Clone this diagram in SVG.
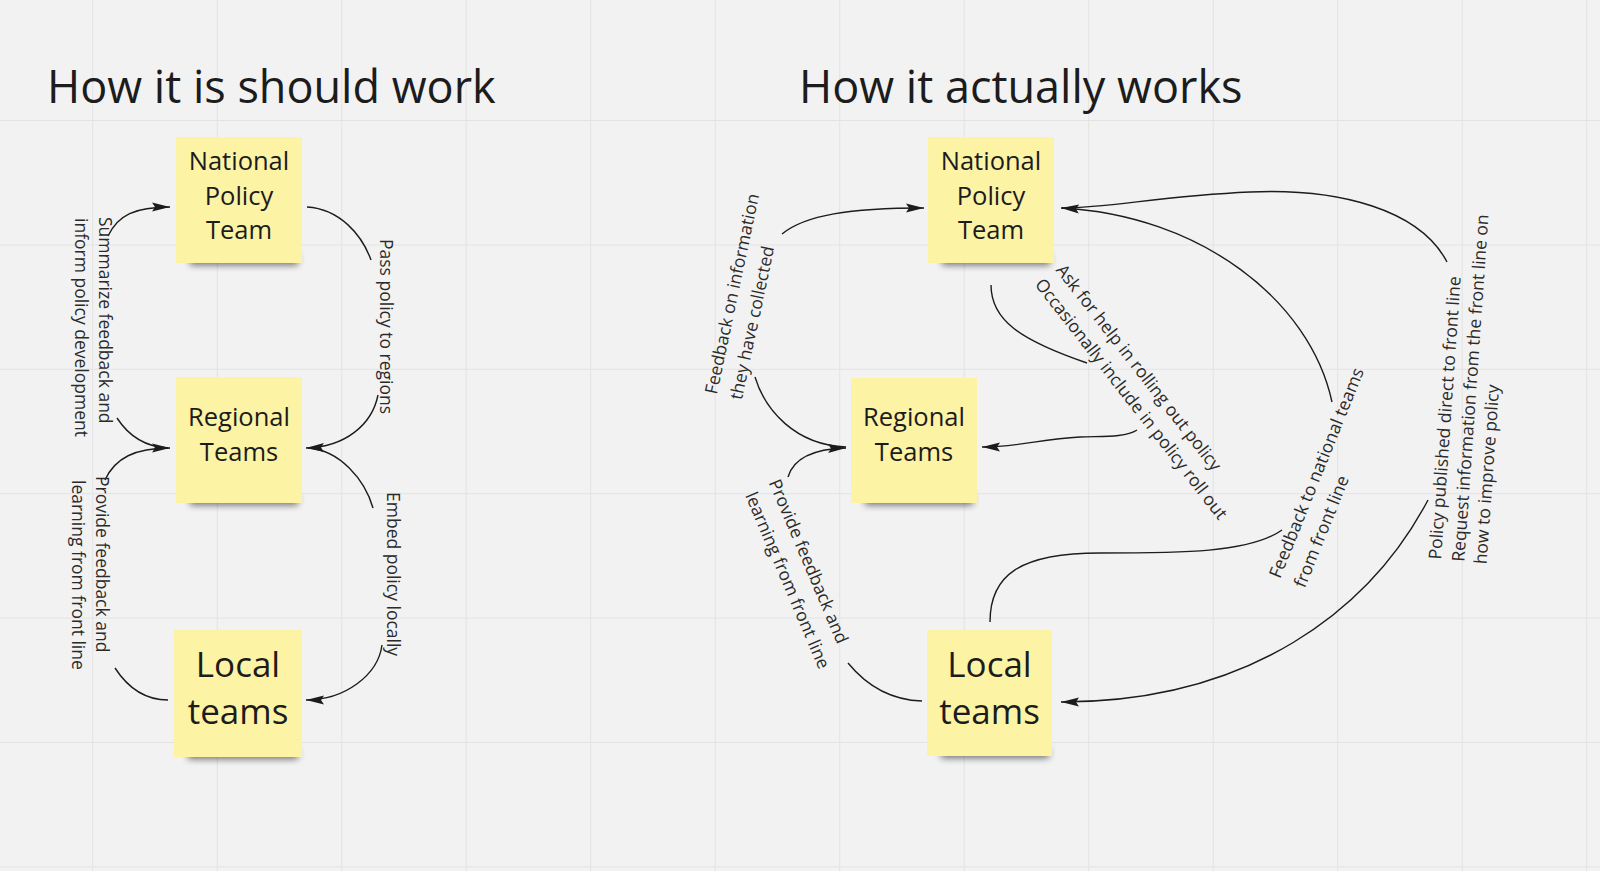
<svg xmlns="http://www.w3.org/2000/svg" width="1600" height="871" viewBox="0 0 1600 871">
<defs>
<style>
.bg{fill:#f2f2f2}
.grid line{stroke:#e3e3e3;stroke-width:1}
.title{font-family:"Open Sans","Liberation Sans",sans-serif;font-size:45px;fill:#1c1c1c}
.note{fill:#fdf3a5}
.shadow{fill:#000;opacity:0.55;filter:url(#blur)}
.nt{font-family:"Open Sans","Liberation Sans",sans-serif;font-size:25.5px;fill:#1c1c1c;text-anchor:middle}
.nt.big{font-size:35px}
.conn path{fill:none;stroke:#1c1c1c;stroke-width:1.4}
.lbl{font-family:"Open Sans","Liberation Sans",sans-serif;font-size:17.5px;fill:#2a2a2a}
.mid{text-anchor:middle}
</style>
<filter id="blur" x="-20%" y="-200%" width="140%" height="500%"><feGaussianBlur stdDeviation="3.5"/></filter>
<marker id="arr" viewBox="-20 -6 22 12" refX="0" refY="0" markerWidth="22" markerHeight="12" markerUnits="userSpaceOnUse" orient="auto">
<path d="M0,0 L-18,-4.5 L-15,0 L-18,4.5 Z" fill="#1c1c1c"/>
</marker>
</defs>
<rect class="bg" x="0" y="0" width="1600" height="871"/>
<g class="grid">
<line x1="92.7" y1="0" x2="92.7" y2="871"/><line x1="217.2" y1="0" x2="217.2" y2="871"/><line x1="341.7" y1="0" x2="341.7" y2="871"/><line x1="466.2" y1="0" x2="466.2" y2="871"/><line x1="590.7" y1="0" x2="590.7" y2="871"/><line x1="715.2" y1="0" x2="715.2" y2="871"/><line x1="839.7" y1="0" x2="839.7" y2="871"/><line x1="964.2" y1="0" x2="964.2" y2="871"/><line x1="1088.7" y1="0" x2="1088.7" y2="871"/><line x1="1213.2" y1="0" x2="1213.2" y2="871"/><line x1="1337.7" y1="0" x2="1337.7" y2="871"/><line x1="1462.2" y1="0" x2="1462.2" y2="871"/><line x1="1586.7" y1="0" x2="1586.7" y2="871"/>
<line x1="0" y1="120.5" x2="1600" y2="120.5"/><line x1="0" y1="245" x2="1600" y2="245"/><line x1="0" y1="369.3" x2="1600" y2="369.3"/><line x1="0" y1="493.7" x2="1600" y2="493.7"/><line x1="0" y1="618.1" x2="1600" y2="618.1"/><line x1="0" y1="742.5" x2="1600" y2="742.5"/><line x1="0" y1="866.9" x2="1600" y2="866.9"/>
</g>
<text class="title" x="47" y="103">How it is should work</text>
<text class="title" x="799" y="103">How it actually works</text>

<g id="left-national">
<rect class="shadow" x="190" y="255" width="108" height="10"/>
<rect class="note" x="176" y="137" width="126" height="126"/>
<text class="nt" x="239" y="170">National</text><text class="nt" x="239" y="204.5">Policy</text><text class="nt" x="239" y="239">Team</text>
</g>
<g id="left-regional">
<rect class="shadow" x="190" y="495" width="108" height="10"/>
<rect class="note" x="176" y="377" width="126" height="126"/>
<text class="nt" x="239" y="426">Regional</text><text class="nt" x="239" y="461">Teams</text>
</g>
<g id="left-local">
<rect class="shadow" x="188" y="749" width="110" height="10"/>
<rect class="note" x="174" y="630" width="128" height="127"/>
<text class="nt big" x="238" y="677">Local</text><text class="nt big" x="238" y="724">teams</text>
</g>
<g id="right-national">
<rect class="shadow" x="942" y="255" width="108" height="10"/>
<rect class="note" x="928" y="137" width="126" height="126"/>
<text class="nt" x="991" y="170">National</text><text class="nt" x="991" y="204.5">Policy</text><text class="nt" x="991" y="239">Team</text>
</g>
<g id="right-regional">
<rect class="shadow" x="865" y="495" width="108" height="10"/>
<rect class="note" x="851" y="378" width="126" height="125"/>
<text class="nt" x="914" y="426">Regional</text><text class="nt" x="914" y="461">Teams</text>
</g>
<g id="right-local">
<rect class="shadow" x="941" y="748" width="108" height="10"/>
<rect class="note" x="927" y="630" width="125" height="126"/>
<text class="nt big" x="989.5" y="677">Local</text><text class="nt big" x="989.5" y="724">teams</text>
</g>

<g id="connectors" class="conn">
<path d="M108,236 C118,215 135,207 170,207" marker-end="url(#arr)"/>
<path d="M117,418 C130,438 148,447 168,448"/>
<path d="M105,480 C115,458 135,448 170,448" marker-end="url(#arr)"/>
<path d="M115,668 C128,688 145,700 168,700"/>
<path d="M307,207 C340,209 362,235 371,260"/>
<path d="M378,395 C372,425 345,447 306,448" marker-end="url(#arr)"/>
<path d="M308,448 C340,450 365,480 373,508"/>
<path d="M382,645 C378,675 345,700 306,700" marker-end="url(#arr)"/>

<path d="M782,234 C805,215 850,208 924,208" marker-end="url(#arr)"/>
<path d="M755,377 C765,410 795,445 846,447"/>
<path d="M788,477 C793,460 810,449 846,448" marker-end="url(#arr)"/>
<path d="M848,663 C862,680 885,700 922,701"/>
<path d="M991,285 C991,320 1020,340 1087,363"/>
<path d="M1137,430 C1125,438 1100,436 1080,437 C1040,439 1020,447 982,447" marker-end="url(#arr)"/>
<path d="M990,622 C990,575 1020,553 1100,553 C1180,553 1250,553 1282,530"/>
<path d="M1332,402 C1310,300 1200,215 1061,208" marker-end="url(#arr)"/>
<path d="M1447,262 C1420,210 1340,188 1250,192 C1160,196 1110,208 1062,208"/>
<path d="M1428,500 C1370,610 1250,702 1061,702" marker-end="url(#arr)"/>
</g>

<g id="connector-labels">
<text class="lbl" transform="translate(98.5,217) rotate(90)">Summarize feedback and</text>
<text class="lbl" transform="translate(74.5,218) rotate(90)">inform policy development</text>
<text class="lbl" transform="translate(380,239) rotate(90)">Pass policy to regions</text>
<text class="lbl" transform="translate(387,492) rotate(90)">Embed policy locally</text>
<text class="lbl" transform="translate(95.5,476) rotate(90)">Provide feedback and</text>
<text class="lbl" transform="translate(71.5,480) rotate(90)">learning from front line</text>

<text class="lbl mid" transform="translate(738,295) rotate(-78)">Feedback on information</text>
<text class="lbl mid" transform="translate(758,324) rotate(-78)">they have collected</text>
<text class="lbl mid" transform="translate(1134,371.2) rotate(52)">Ask for help in rolling out policy</text>
<text class="lbl mid" transform="translate(1126.5,402.7) rotate(52)">Occasionally include in policy roll out</text>
<text class="lbl mid" transform="translate(1322,475.2) rotate(-68)">Feedback to national teams</text>
<text class="lbl mid" transform="translate(1327,533.7) rotate(-68)">from front line</text>
<text class="lbl mid" transform="translate(803,563.7) rotate(67)">Provide feedback and</text>
<text class="lbl mid" transform="translate(782,582.7) rotate(67)">learning from front line</text>
<text class="lbl mid" transform="translate(1450.9,418.3) rotate(-86)">Policy published direct to front line</text>
<text class="lbl mid" transform="translate(1476.4,388.3) rotate(-86)">Request information from the front line on</text>
<text class="lbl mid" transform="translate(1492.9,474.8) rotate(-86)">how to improve policy</text>
</g>
</svg>
